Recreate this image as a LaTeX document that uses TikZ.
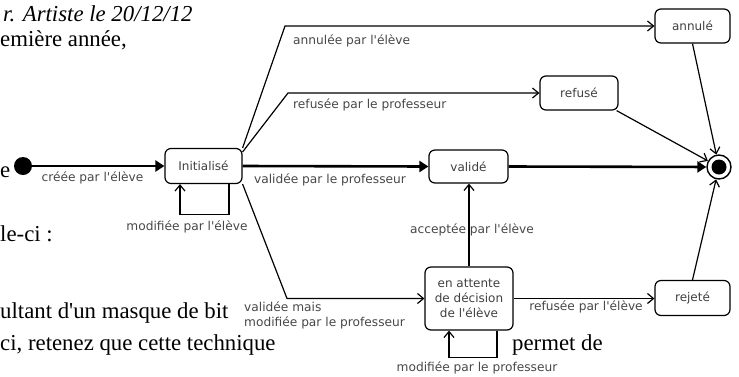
\documentclass[tikz,border=0pt]{standalone}
\usepackage{fontspec}
\setmainfont{Liberation Serif}[Ligatures=TeXOff]
\newfontfamily\diag{DejaVu Sans}[Ligatures=TeXOff]
\usetikzlibrary{arrows.meta}
\begin{document}
\begin{tikzpicture}[x=1pt,y=-1pt,
  state/.style={draw, rounded corners=6pt, line width=1.2pt, fill=white, inner sep=0pt, align=center,
    font=\diag\fontsize{12}{15}\selectfont, text=black!75},
  lbl/.style={inner sep=0pt, font=\diag\fontsize{12.2}{15}\selectfont, text=black!72},
  bg/.style={inner sep=0pt, anchor=base west, font=\fontsize{22.8}{26}\selectfont},
  thinarr/.style={line width=1.2pt, -{Straight Barb[length=6pt,width=10pt]}},
  thickarr/.style={line width=2.6pt, -{Triangle[length=9pt,width=11pt]}},
  initdot/.style={circle, fill=black, inner sep=0pt, minimum size=18pt},
  finaldot/.style={circle, draw, line width=1.4pt, inner sep=0pt, minimum size=24pt}
]
\useasboundingbox (0,0) rectangle (739,376);

% background page text
\node[bg, font=\itshape\fontsize{22.8}{26}\selectfont] (t1) at (3,21) {r. Artiste le 20/12/12};
\node[bg] (t2) at (0,46) {emière année,};
\node[bg] (t3) at (0,177) {e};
\node[bg] (t4) at (0,241) {le-ci :};
\node[bg] (t5) at (0,318) {ultant d'un masque de bit};
\node[bg] (t6) at (0,350) {ci, retenez que cette technique};
\node[bg] (t7) at (512,350) {permet de};

% states
\node[initdot] (s0) at (23,166) {};
\node[state, minimum width=77pt, minimum height=35pt] (ini) at (203.5,166) {Initialisé};
\node[state, minimum width=79pt, minimum height=33pt] (val) at (468.5,166.5) {validé};
\node[state, minimum width=75pt, minimum height=34pt] (ann) at (692.5,26) {annulé};
\node[state, minimum width=78pt, minimum height=34pt] (ref) at (579,93) {refusé};
\node[state, minimum width=88pt, minimum height=63pt] (att) at (469,298.5) {en attente\\de décision\\de l'élève};
\node[state, minimum width=75pt, minimum height=35pt] (rej) at (692.5,298) {rejeté};
\node[finaldot] (fin) at (719,167) {};
\fill (fin.center) circle (7.5pt);

% bend points
\coordinate (a1) at (285,26);
\coordinate (r1) at (288,93);
\coordinate (m1) at (287,298.5);

% transitions
\draw[thickarr] (s0) -- (s0 -| ini.west);
\draw[thickarr] (ini.east) -- (val.west);
\draw[thickarr] (val.east) -- (fin);
\draw[thinarr] (ini.north east) -- (a1) -- (ann.west);
\draw[thinarr] ([yshift=-4pt]ini.north east) -- (r1) -- (ref.west);
\draw[thinarr] (ini.south east) -- (m1) -- (att.west);
\draw[thinarr] (att.north) -- (att.north |- val.south);
\draw[thinarr] (att.east) -- (att.east -| rej.west);
\draw[thinarr] ([xshift=25.5pt]ini.south) -- ++(0,30) -| ([xshift=-23.5pt]ini.south);
\draw[thinarr] ([xshift=28pt]att.south) -- ++(0,27) -| ([xshift=-20pt]att.south);
\draw[thinarr] (ann.south) -- (fin);
\draw[thinarr] ([xshift=-2pt]ref.south east) -- (fin);
\draw[thinarr] (rej.north) -- (fin);

% labels
\node[lbl] (l1) at (92.5,178) {créée par l'élève};
\node[lbl] (l2) at (330,180) {validée par le professeur};
\node[lbl, anchor=west] (l3) at (293,41) {annulée par l'élève};
\node[lbl, anchor=west] (l4) at (293,105) {refusée par le professeur};
\node[lbl] (l5) at (187,227) {modifiée par l'élève};
\node[lbl, anchor=west, align=left] (l6) at (244,315.5) {validée mais\\modifiée par le professeur};
\node[lbl] (l7) at (472,230) {acceptée par l'élève};
\node[lbl] (l8) at (586,307) {refusée par l'élève};
\node[lbl] (l9) at (477,368) {modifiée par le professeur};
\end{tikzpicture}
\end{document}
